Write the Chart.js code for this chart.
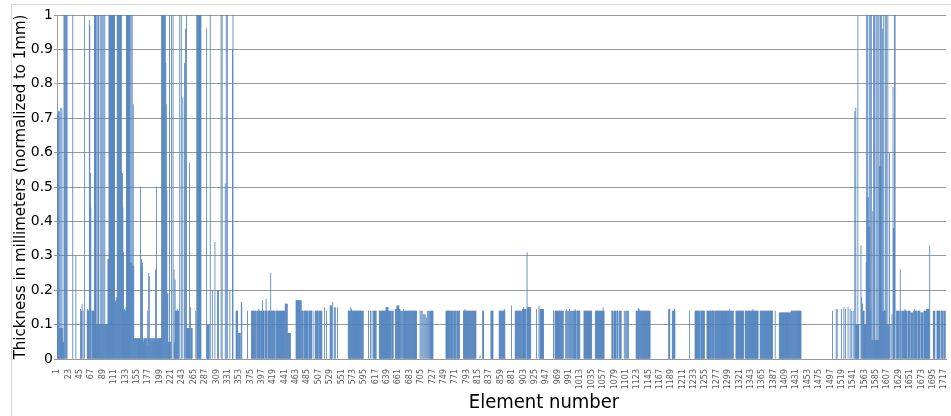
<!DOCTYPE html>
<html>
<head>
<meta charset="utf-8">
<title>Thickness per element</title>
<script src="https://cdn.jsdelivr.net/npm/chart.js@4.4.1/dist/chart.umd.min.js"></script>
<style>
  html, body { margin: 0; padding: 0; background: #fff; overflow: hidden; }
  #frame { position: absolute; left: 11px; top: 4px; width: 1000px; height: 1000px; border: 1px solid #d9d9d9; }
  #wrap { position: absolute; left: 0; top: 0; width: 951px; height: 416px; }
  #xTitle {
    position: absolute; top: 389px; left: 444px; width: 200px; text-align: center;
    font-family: "DejaVu Sans", sans-serif; font-stretch: condensed;
    font-size: 20px; line-height: 24px; color: #000; white-space: nowrap;
  }
</style>
</head>
<body>
<div id="frame"></div>
<div id="wrap"><canvas id="thicknessChart" width="951" height="416"></canvas></div>
<div id="xTitle">Element number</div>
<script>
const elementCount = 1720;
const labelStep = 22;

// categories: element numbers 1..1720
const elements = Array.from({ length: elementCount }, (_, i) => String(i + 1));

// [fromElement, toElement, thickness]
const leftRuns = [
  [1, 11, 0.09], [12, 13, 0.05], [59, 62, 0.14], [68, 72, 0.14], [77, 98, 0.1],
  [101, 112, 1], [113, 116, 0.17], [117, 125, 1], [130, 134, 0.14], [135, 147, 1],
  [150, 202, 0.06], [203, 210, 1], [217, 220, 0.05], [230, 236, 0.14],
  [252, 256, 0.09], [259, 262, 0.09], [271, 279, 1], [291, 295, 0.1],
  [347, 350, 0.14], [352, 355, 0.075], [357, 358, 0.165],
];

// [element, thickness] single bars (drawn over the runs)
const leftBars = [
  [1, 0.71], [3, 0.72], [4, 0.72], [6, 0.72], [8, 0.73], [10, 0.73],
  [14, 1], [15, 1], [17, 1], [19, 1], [20, 1], [31, 1], [37, 0.3],
  [46, 0.145], [48, 0.14], [49, 0.16], [51, 0.14], [54, 1], [60, 0.145],
  [63, 0.985], [64, 0.97], [65, 0.54], [66, 0.44],
  [73, 1], [74, 1], [75, 1], [76, 1], [78, 1], [80, 1], [81, 1], [84, 1],
  [86, 1], [88, 1], [91, 1], [93, 1], [99, 0.29], [100, 0.29],
  [114, 0.165], [115, 0.18], [126, 0.54], [127, 0.54], [128, 0.44], [129, 0.31],
  [131, 0.145], [134, 0.15], [143, 0.28], [145, 0.28], [147, 0.27], [148, 0.74], [149, 0.27],
  [162, 0.5], [164, 0.29], [165, 0.27], [166, 0.28], [168, 0.05], [175, 0.04],
  [176, 0.14], [178, 0.25], [179, 0.24], [184, 0.05], [188, 0.05],
  [191, 0.26], [193, 0.5], [196, 0.05],
  [211, 0.86], [212, 0.74], [213, 0.49], [214, 0.19], [215, 0.19], [216, 0.05],
  [218, 1], [222, 1], [225, 1], [227, 0.26], [228, 0.05], [229, 0.23], [233, 0.145],
  [238, 1], [241, 1], [244, 0.76], [247, 0.86], [249, 0.96], [251, 1],
  [257, 0.57], [259, 0.15], [269, 0.14],
  [290, 0.96], [297, 1], [301, 0.2], [306, 0.34], [311, 0.2], [313, 0.2],
  [318, 1], [320, 1], [326, 0.51], [328, 1], [330, 1], [335, 0.2],
  [340, 0.9], [341, 1], [369, 0.14],
];

const middleRuns = [
  [377, 385, 0.14], [387, 394, 0.14], [396, 401, 0.14], [403, 407, 0.14],
  [409, 422, 0.14], [424, 441, 0.14], [442, 446, 0.16], [447, 452, 0.075],
  [463, 473, 0.17], [474, 476, 0.14], [478, 486, 0.14], [488, 493, 0.14],
  [500, 506, 0.14], [508, 513, 0.14], [529, 532, 0.155], [564, 593, 0.14],
  [613, 618, 0.14], [624, 636, 0.14], [637, 641, 0.15], [642, 646, 0.14],
  [648, 651, 0.14], [655, 657, 0.145], [658, 662, 0.155], [663, 664, 0.145],
  [672, 680, 0.14], [681, 696, 0.14], [723, 728, 0.14],
  [753, 760, 0.14], [762, 766, 0.14], [768, 772, 0.14], [774, 779, 0.14],
  [787, 811, 0.14], [824, 826, 0.14], [840, 844, 0.14], [856, 867, 0.14],
  [887, 899, 0.14], [901, 908, 0.145], [911, 917, 0.15], [935, 942, 0.145],
  [964, 980, 0.14], [1000, 1005, 0.14], [1007, 1012, 0.14], [1020, 1035, 0.14],
  [1042, 1059, 0.14], [1074, 1076, 0.14], [1078, 1082, 0.14], [1084, 1086, 0.14],
  [1089, 1092, 0.14], [1121, 1148, 0.14], [1184, 1186, 0.145], [1191, 1196, 0.14],
  [1235, 1244, 0.14], [1246, 1253, 0.14], [1258, 1265, 0.14], [1267, 1271, 0.14],
  [1273, 1309, 0.14], [1314, 1329, 0.14], [1332, 1357, 0.14], [1361, 1385, 0.14],
  [1398, 1420, 0.135], [1421, 1440, 0.14],
];

const middleBars = [
  [391, 0.145], [398, 0.17], [405, 0.175], [414, 0.25], [430, 0.135],
  [496, 0.14], [518, 0.15], [522, 0.14], [534, 0.165], [537, 0.15], [539, 0.15], [543, 0.15],
  [569, 0.15], [570, 0.145], [603, 0.14], [607, 0.14], [610, 0.14],
  [665, 0.14], [667, 0.14], [669, 0.14], [671, 0.145],
  [703, 0.14], [705, 0.14], [707, 0.14], [709, 0.13], [711, 0.13], [713, 0.13],
  [715, 0.12], [717, 0.14], [719, 0.14], [721, 0.14],
  [790, 0.145], [819, 0.01], [866, 0.145], [880, 0.155], [903, 0.15], [910, 0.31],
  [928, 0.145], [933, 0.155], [961, 0.14],
  [984, 0.14], [986, 0.145], [988, 0.14], [990, 0.14], [992, 0.145], [994, 0.14],
  [996, 0.14], [998, 0.14], [1003, 0.145], [1057, 0.15],
  [1098, 0.14], [1100, 0.14], [1102, 0.14], [1104, 0.14], [1106, 0.14],
  [1125, 0.148], [1127, 0.145], [1195, 0.145], [1224, 0.14], [1302, 0.145],
  [1347, 0.145], [1390, 0.14],
  [1501, 0.14], [1508, 0.145], [1510, 0.145], [1518, 0.145], [1523, 0.15],
  [1526, 0.145], [1531, 0.15], [1535, 0.145], [1538, 0.14], [1541, 0.14],
];

const rightRuns = [
  [1545, 1552, 0.1], [1560, 1562, 0.14], [1563, 1565, 0.1], [1566, 1567, 0.28],
  [1568, 1570, 0.47], [1571, 1573, 0.385], [1574, 1576, 0.14], [1577, 1591, 0.055],
  [1592, 1596, 0.56], [1597, 1605, 0.14], [1606, 1611, 0.1], [1619, 1620, 0.38],
  [1621, 1622, 1], [1625, 1629, 0.14], [1631, 1633, 0.14], [1635, 1640, 0.14],
  [1642, 1645, 0.14], [1647, 1651, 0.14], [1653, 1656, 0.135], [1658, 1664, 0.14],
  [1666, 1670, 0.14], [1672, 1676, 0.135], [1678, 1682, 0.14], [1683, 1688, 0.145],
  [1696, 1699, 0.14], [1703, 1709, 0.14], [1712, 1715, 0.14], [1717, 1719, 0.14],
];

const rightBars = [
  [1544, 0.72], [1546, 0.73], [1550, 1], [1556, 0.33], [1557, 0.18], [1559, 0.16],
  [1567, 1], [1569, 1], [1572, 1], [1574, 1], [1576, 1], [1579, 0.43], [1580, 1],
  [1582, 1], [1585, 1], [1587, 1], [1589, 1], [1591, 1], [1594, 1], [1596, 1],
  [1598, 0.96], [1600, 1], [1603, 1], [1605, 1], [1608, 1], [1611, 0.6],
  [1614, 0.1], [1616, 0.13], [1618, 0.79], [1632, 0.26], [1641, 0.145],
  [1660, 0.145], [1689, 0.33],
];

function buildThickness() {
  const values = new Array(elementCount).fill(null);
  [...leftRuns, ...middleRuns, ...rightRuns].forEach(([from, to, v]) => {
    for (let e = from; e <= to; e++) values[e - 1] = v;
  });
  [...leftBars, ...middleBars, ...rightBars].forEach(([e, v]) => {
    values[e - 1] = v;
  });
  return values;
}

const thickness = buildThickness();

const ctx = document.getElementById("thicknessChart").getContext("2d");

const thicknessChart = new Chart(ctx, {
  type: "bar",
  data: {
    labels: elements,
    datasets: [
      {
        label: "Thickness",
        data: thickness,
        backgroundColor: "#4F81BD",
        borderWidth: 0,
        barPercentage: 1,
        categoryPercentage: 1,
        inflateAmount: 0.15,
      },
    ],
  },
  options: {
    responsive: false,
    animation: false,
    events: [],
    layout: { padding: { top: 15, right: 5, left: 0, bottom: 0 } },
    scales: {
      x: {
        grid: { display: false },
        border: { display: true, color: "#9a9a9a" },
        ticks: {
          autoSkip: false,
          minRotation: 90,
          maxRotation: 90,
          padding: 2,
          color: "#595959",
          font: { family: "DejaVu Sans", size: 8 },
          callback: (value, index) => (index % labelStep === 0 ? elements[index] : ""),
        },
        afterFit: (scale) => {
          scale.height = 57;
          scale.paddingLeft = 0;
          scale.paddingRight = 0;
        },
      },
      y: {
        min: 0,
        max: 1,
        ticks: {
          stepSize: 0.1,
          padding: 1,
          color: "#000",
          font: { family: "DejaVu Sans", size: 14 },
          callback: (value) => String(Number(value.toFixed(1))),
        },
        grid: { color: "#9a9a9a", tickLength: 3 },
        border: { display: true, color: "#9a9a9a" },
        title: {
          display: true,
          text: "Thickness in millimeters (normalized to 1mm)",
          color: "#000",
          font: { family: "DejaVu Sans", size: 15 },
          padding: { top: 12, bottom: 0 },
        },
        afterFit: (scale) => {
          scale.width = 57;
          scale.paddingTop = 0;
          scale.paddingBottom = 0;
        },
      },
    },
    plugins: {
      legend: { display: false },
      tooltip: { enabled: false },
    },
  },
});
</script>
</body>
</html>
